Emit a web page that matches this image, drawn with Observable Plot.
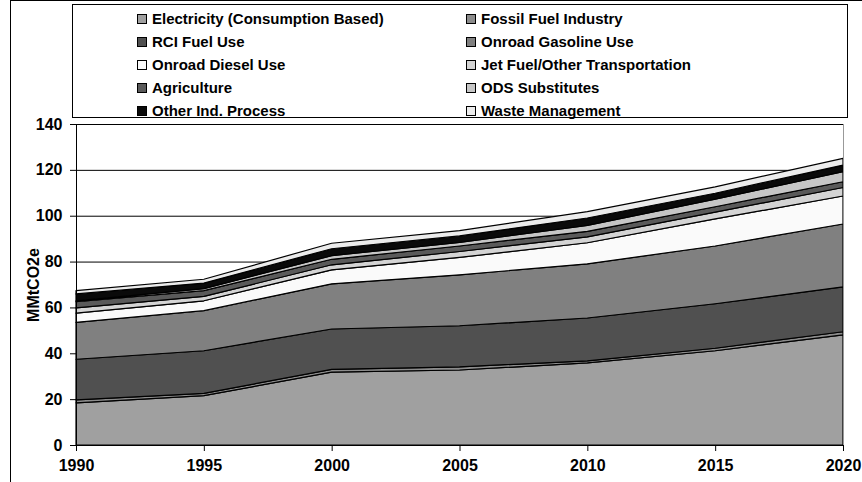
<!DOCTYPE html>
<html>
<head>
<meta charset="utf-8">
<script src="https://cdn.jsdelivr.net/npm/d3@7"></script>
<script src="https://cdn.jsdelivr.net/npm/@observablehq/plot@0.6"></script>
<style>
  html, body { margin: 0; padding: 0; background: #fff; }
  body { width: 862px; height: 482px; position: relative; overflow: hidden; font-family: Arial, "Liberation Sans", sans-serif; }
  #frameLeft { position: absolute; left: 10px; top: 0; width: 1px; height: 482px; background: #000; }
  #frameTop { position: absolute; left: 10px; top: 0; width: 852px; height: 1px; background: #000; }
  #legend { position: absolute; left: 72px; top: 4px; width: 774px; height: 112px; border: 1px solid #000; background: #fff; }
  .item { position: absolute; display: flex; align-items: center; height: 22px; line-height: 22px; font-weight: bold; font-size: 15px; color: #000; white-space: nowrap; }
  .sw { width: 8px; height: 8px; border: 1px solid #000; margin-right: 5px; }
  #chart { position: absolute; left: 0; top: 100px; }
  #chart svg { background: transparent; }
</style>
</head>
<body>
<div id="frameTop"></div>
<div id="frameLeft"></div>
<div id="legend"></div>
<div id="chart"></div>
<script>
const years = [1990, 1995, 2000, 2005, 2010, 2015, 2020];
const seriesNames = [
  "Electricity (Consumption Based)",
  "Fossil Fuel Industry",
  "RCI Fuel Use",
  "Onroad Gasoline Use",
  "Onroad Diesel Use",
  "Jet Fuel/Other Transportation",
  "Agriculture",
  "ODS Substitutes",
  "Other Ind. Process",
  "Waste Management"
];
const seriesColors = ["#a0a0a0", "#8c8c8c", "#505050", "#808080", "#fafafa", "#d4d4d4", "#5a5a5a", "#c6c6c6", "#0a0a0a", "#ececec"];

const electricity = [18.4, 21.5, 31.8, 32.7, 35.8, 41.1, 48.0];
const fossilFuel  = [1.3, 1.0, 1.2, 1.4, 0.9, 1.1, 1.4];
const rciFuel     = [17.7, 18.6, 17.6, 17.9, 18.7, 19.4, 19.6];
const gasoline    = [16.1, 17.5, 19.7, 22.2, 23.6, 25.2, 27.4];
const diesel      = [4.0, 4.3, 6.1, 7.6, 9.2, 11.8, 12.2];
const jetFuel     = [2.3, 1.9, 2.2, 2.6, 2.6, 3.0, 3.7];
const agriculture = [2.7, 2.5, 2.4, 2.4, 2.4, 2.3, 2.5];
const odsSubst    = [0.4, 0.9, 1.6, 1.6, 2.6, 3.3, 4.4];
const otherInd    = [3.0, 2.4, 3.0, 2.8, 3.2, 2.6, 2.9];
const waste       = [1.4, 1.7, 2.4, 2.3, 2.8, 2.8, 2.9];

const yTicks = [0, 20, 40, 60, 80, 100, 120, 140];

const seriesValues = [electricity, fossilFuel, rciFuel, gasoline, diesel, jetFuel, agriculture, odsSubst, otherInd, waste];
const data = [];
seriesNames.forEach((name, i) => {
  years.forEach((yr, j) => data.push({year: yr, series: name, value: seriesValues[i][j]}));
});

// Legend (row by row, two columns)
const legend = document.getElementById("legend");
seriesNames.forEach((name, i) => {
  const col = i % 2, row = Math.floor(i / 2);
  const el = document.createElement("div");
  el.className = "item";
  el.style.left = (col === 0 ? 64 : 393) + "px";
  el.style.top = (3 + row * 23) + "px";
  const sw = document.createElement("div");
  sw.className = "sw";
  sw.style.background = seriesColors[i];
  el.appendChild(sw);
  el.appendChild(document.createTextNode(name));
  legend.appendChild(el);
});

const chart = Plot.plot({
  width: 862,
  height: 382,
  marginTop: 24,
  marginBottom: 37,
  marginLeft: 76,
  marginRight: 19,
  style: {fontFamily: "Arial, 'Liberation Sans', sans-serif", fontSize: "16px", fontWeight: "bold", color: "#000", background: "transparent"},
  x: {domain: [1990, 2020]},
  y: {domain: [0, 140]},
  color: {domain: seriesNames, range: seriesColors},
  marks: [
    Plot.ruleY(yTicks.slice(1), {stroke: "#000", strokeWidth: 1}),
    Plot.areaY(data, {x: "year", y: "value", z: "series", fill: "series", stroke: "#000", strokeWidth: 1.2, order: seriesNames}),
    Plot.ruleX([2020], {stroke: "#999", strokeWidth: 1}),
    Plot.ruleX([1990], {stroke: "#000", strokeWidth: 1}),
    Plot.ruleY([0], {stroke: "#000", strokeWidth: 1}),
    Plot.axisY({ticks: yTicks, tickSize: 6, tickPadding: 8, label: null}),
    Plot.axisX({ticks: years, tickFormat: d => String(d), tickSize: 6, tickPadding: 8, label: null}),
    Plot.text(["MMtCO2e"], {frameAnchor: "left", dx: -43, rotate: -90, fontSize: 16, fontWeight: "bold", fill: "#000", textAnchor: "middle", lineAnchor: "middle", style: "letter-spacing:0.6px"})
  ]
});
document.getElementById("chart").appendChild(chart);
</script>
</body>
</html>
